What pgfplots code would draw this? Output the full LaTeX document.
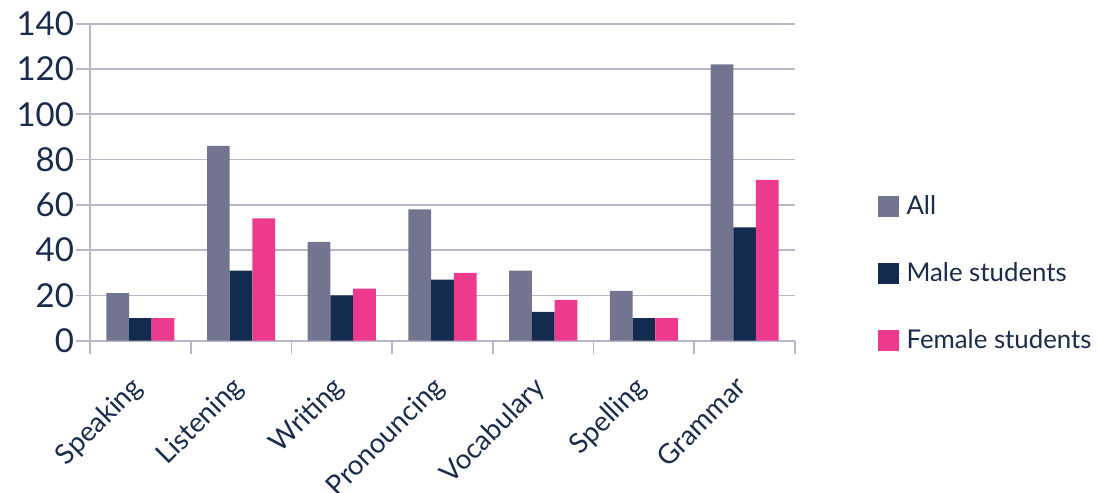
\documentclass[border=0pt]{standalone}
\usepackage{pgfplots}
\pgfplotsset{compat=1.18}
\usepackage{fontspec}
\setmainfont{Lato}
\definecolor{cAll}{HTML}{737590}
\definecolor{cMale}{HTML}{132B4F}
\definecolor{cFem}{HTML}{EE3A8C}
\definecolor{cText}{HTML}{1B2B4B}
\definecolor{cGrid}{HTML}{B8B6C8}
\begin{document}
\begin{tikzpicture}
\begin{axis}[
  name=ax,
  scale only axis, width=352.5pt, height=158.5pt,
  ybar=0pt, bar width=11.35pt,
  xmin=-0.5, xmax=6.5, ymin=0, ymax=140,
  xtick={-0.5,0.5,...,6.5},
  x tick label as interval,
  xticklabels={Speaking,Listening,Writing,Pronouncing,Vocabulary,Spelling,Grammar},
  ytick={0,20,...,140},
  axis lines*=left,
  axis line style={cGrid, line width=0.8pt},
  ymajorgrids, grid style={cGrid, line width=0.8pt},
  tick style={cGrid, line width=0.8pt},
  tick align=outside, major tick length=6.8pt,
  /pgf/number format/assume math mode=true,
  y tick label style={font=\fontsize{16.5}{18}\selectfont, text=cText, inner sep=1pt},
  x tick label style={font=\fontsize{13.8}{16}\selectfont, text=cText, xshift=-5.5pt, yshift=-8.5pt, rotate=45, anchor=north east, inner sep=1pt},
  legend style={at={(1.108,0.211)}, anchor=west, draw=none, fill=none,
    row sep=18.5pt, font=\fontsize{12.9}{15}\selectfont, text=cText,
    /tikz/every even column/.append style={column sep=0pt}},
  legend cell align=left,
  legend image code/.code={\fill[#1] (0pt,-5.25pt) rectangle (10.5pt,5.25pt); \path (0pt,0pt) -- (12.5pt,0pt);},
]
\addplot[fill=cAll, draw=none] coordinates {(0,21) (1,86) (2,43.6) (3,58) (4,31) (5,22) (6,122)};
\addplot[fill=cMale, draw=none] coordinates {(0,10) (1,31) (2,20) (3,27) (4,12.7) (5,10) (6,50)};
\addplot[fill=cFem, draw=none] coordinates {(0,10) (1,54) (2,23) (3,30) (4,18) (5,10) (6,71)};
\legend{All, Male students, Female students}
\end{axis}
\pgfresetboundingbox
\path (ax.south west) ++(-45pt,-76.15pt) rectangle ([xshift=504.5pt,yshift=170.35pt]ax.south west);
\end{tikzpicture}
\end{document}
